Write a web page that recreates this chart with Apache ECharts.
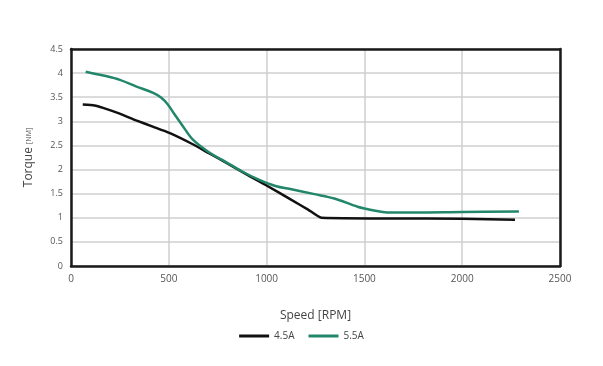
<!DOCTYPE html>
<html>
<head>
<meta charset="utf-8">
<script src="https://cdn.jsdelivr.net/npm/echarts@6/dist/echarts.min.js"></script>
<style>html,body{margin:0;padding:0;background:#fff}#c{width:603px;height:366px}</style>
</head>
<body>
<div id="c"></div>
<script>
var seriesNames = ['4.5A', '5.5A'];
var xTicks = [0, 500, 1000, 1500, 2000, 2500];
var yTicks = [0, 0.5, 1, 1.5, 2, 2.5, 3, 3.5, 4, 4.5];

var speed45 = [60, 120, 164, 249, 333, 418, 503, 620, 705, 790, 875, 960, 1000, 1127, 1212, 1280, 2000, 2270];
var torque45 = [3.35, 3.33, 3.28, 3.16, 3.02, 2.89, 2.76, 2.53, 2.34, 2.15, 1.95, 1.76, 1.67, 1.37, 1.17, 1.0, 0.98, 0.96];

var speed55 = [75, 165, 250, 335, 420, 462, 495, 530, 572, 623, 705, 790, 875, 960, 1045, 1127, 1245, 1346, 1465, 1550, 1616, 1750, 2000, 2290];
var torque55 = [4.03, 3.95, 3.86, 3.72, 3.59, 3.49, 3.35, 3.14, 2.90, 2.62, 2.36, 2.16, 1.96, 1.79, 1.66, 1.59, 1.49, 1.40, 1.23, 1.15, 1.11, 1.11, 1.12, 1.13];

function pairs(xs, ys) { return xs.map(function (x, i) { return [x, ys[i]]; }); }

var chart = echarts.init(document.getElementById('c'), null, {renderer: 'canvas'});
var font = '"Open Sans", sans-serif';
var frame = {show: true, onZero: false, lineStyle: {color: '#1a1a1a', width: 2.5}};
var xMin = xTicks[0], xMax = xTicks[xTicks.length - 1];
var yMin = yTicks[0], yMax = yTicks[yTicks.length - 1];
chart.setOption({
  animation: false,
  textStyle: {fontFamily: font},
  grid: {left: 71, right: 43, top: 49, bottom: 100},
  xAxis: [{
    type: 'value', min: xMin, max: xMax, interval: 500,
    name: 'Speed [RPM]', nameLocation: 'middle', nameGap: 44,
    nameTextStyle: {color: '#444', fontSize: 12, fontFamily: font},
    axisLine: frame, axisTick: {show: false},
    axisLabel: {color: '#555', fontSize: 10, margin: 8, fontFamily: font, formatter: function (v) { return String(v); }},
    splitLine: {show: true, lineStyle: {color: '#cfcfcf', width: 1.5}}
  }, {
    type: 'value', position: 'top', min: xMin, max: xMax, interval: 500,
    axisLine: frame, axisTick: {show: false}, axisLabel: {show: false}, splitLine: {show: false}
  }],
  yAxis: [{
    type: 'value', min: yMin, max: yMax, interval: 0.5,
    name: 'Torque {s|[NM]}', nameLocation: 'middle', nameGap: 36, nameRotate: 90,
    nameTextStyle: {color: '#444', fontSize: 12, fontFamily: font, rich: {s: {fontSize: 7, color: '#444', fontFamily: font}}},
    axisLine: frame, axisTick: {show: false},
    axisLabel: {color: '#555', fontSize: 9, margin: 8, fontFamily: font},
    splitLine: {show: true, lineStyle: {color: '#cfcfcf', width: 1.5}}
  }, {
    type: 'value', position: 'right', min: yMin, max: yMax, interval: 0.5,
    axisLine: frame, axisTick: {show: false}, axisLabel: {show: false}, splitLine: {show: false}
  }],
  legend: {
    bottom: 20, left: 'center', itemWidth: 30, itemHeight: 3, itemGap: 14,
    icon: 'rect',
    textStyle: {color: '#444', fontSize: 10, fontFamily: font},
    data: seriesNames
  },
  series: [
    {name: seriesNames[0], type: 'line', data: pairs(speed45, torque45), showSymbol: false, smooth: 0.15,
      lineStyle: {color: '#111', width: 2.5}, itemStyle: {color: '#111'}},
    {name: seriesNames[1], type: 'line', data: pairs(speed55, torque55), showSymbol: false, smooth: 0.35,
      lineStyle: {color: '#22876a', width: 2.5}, itemStyle: {color: '#22876a'}}
  ]
});
</script>
</body>
</html>
